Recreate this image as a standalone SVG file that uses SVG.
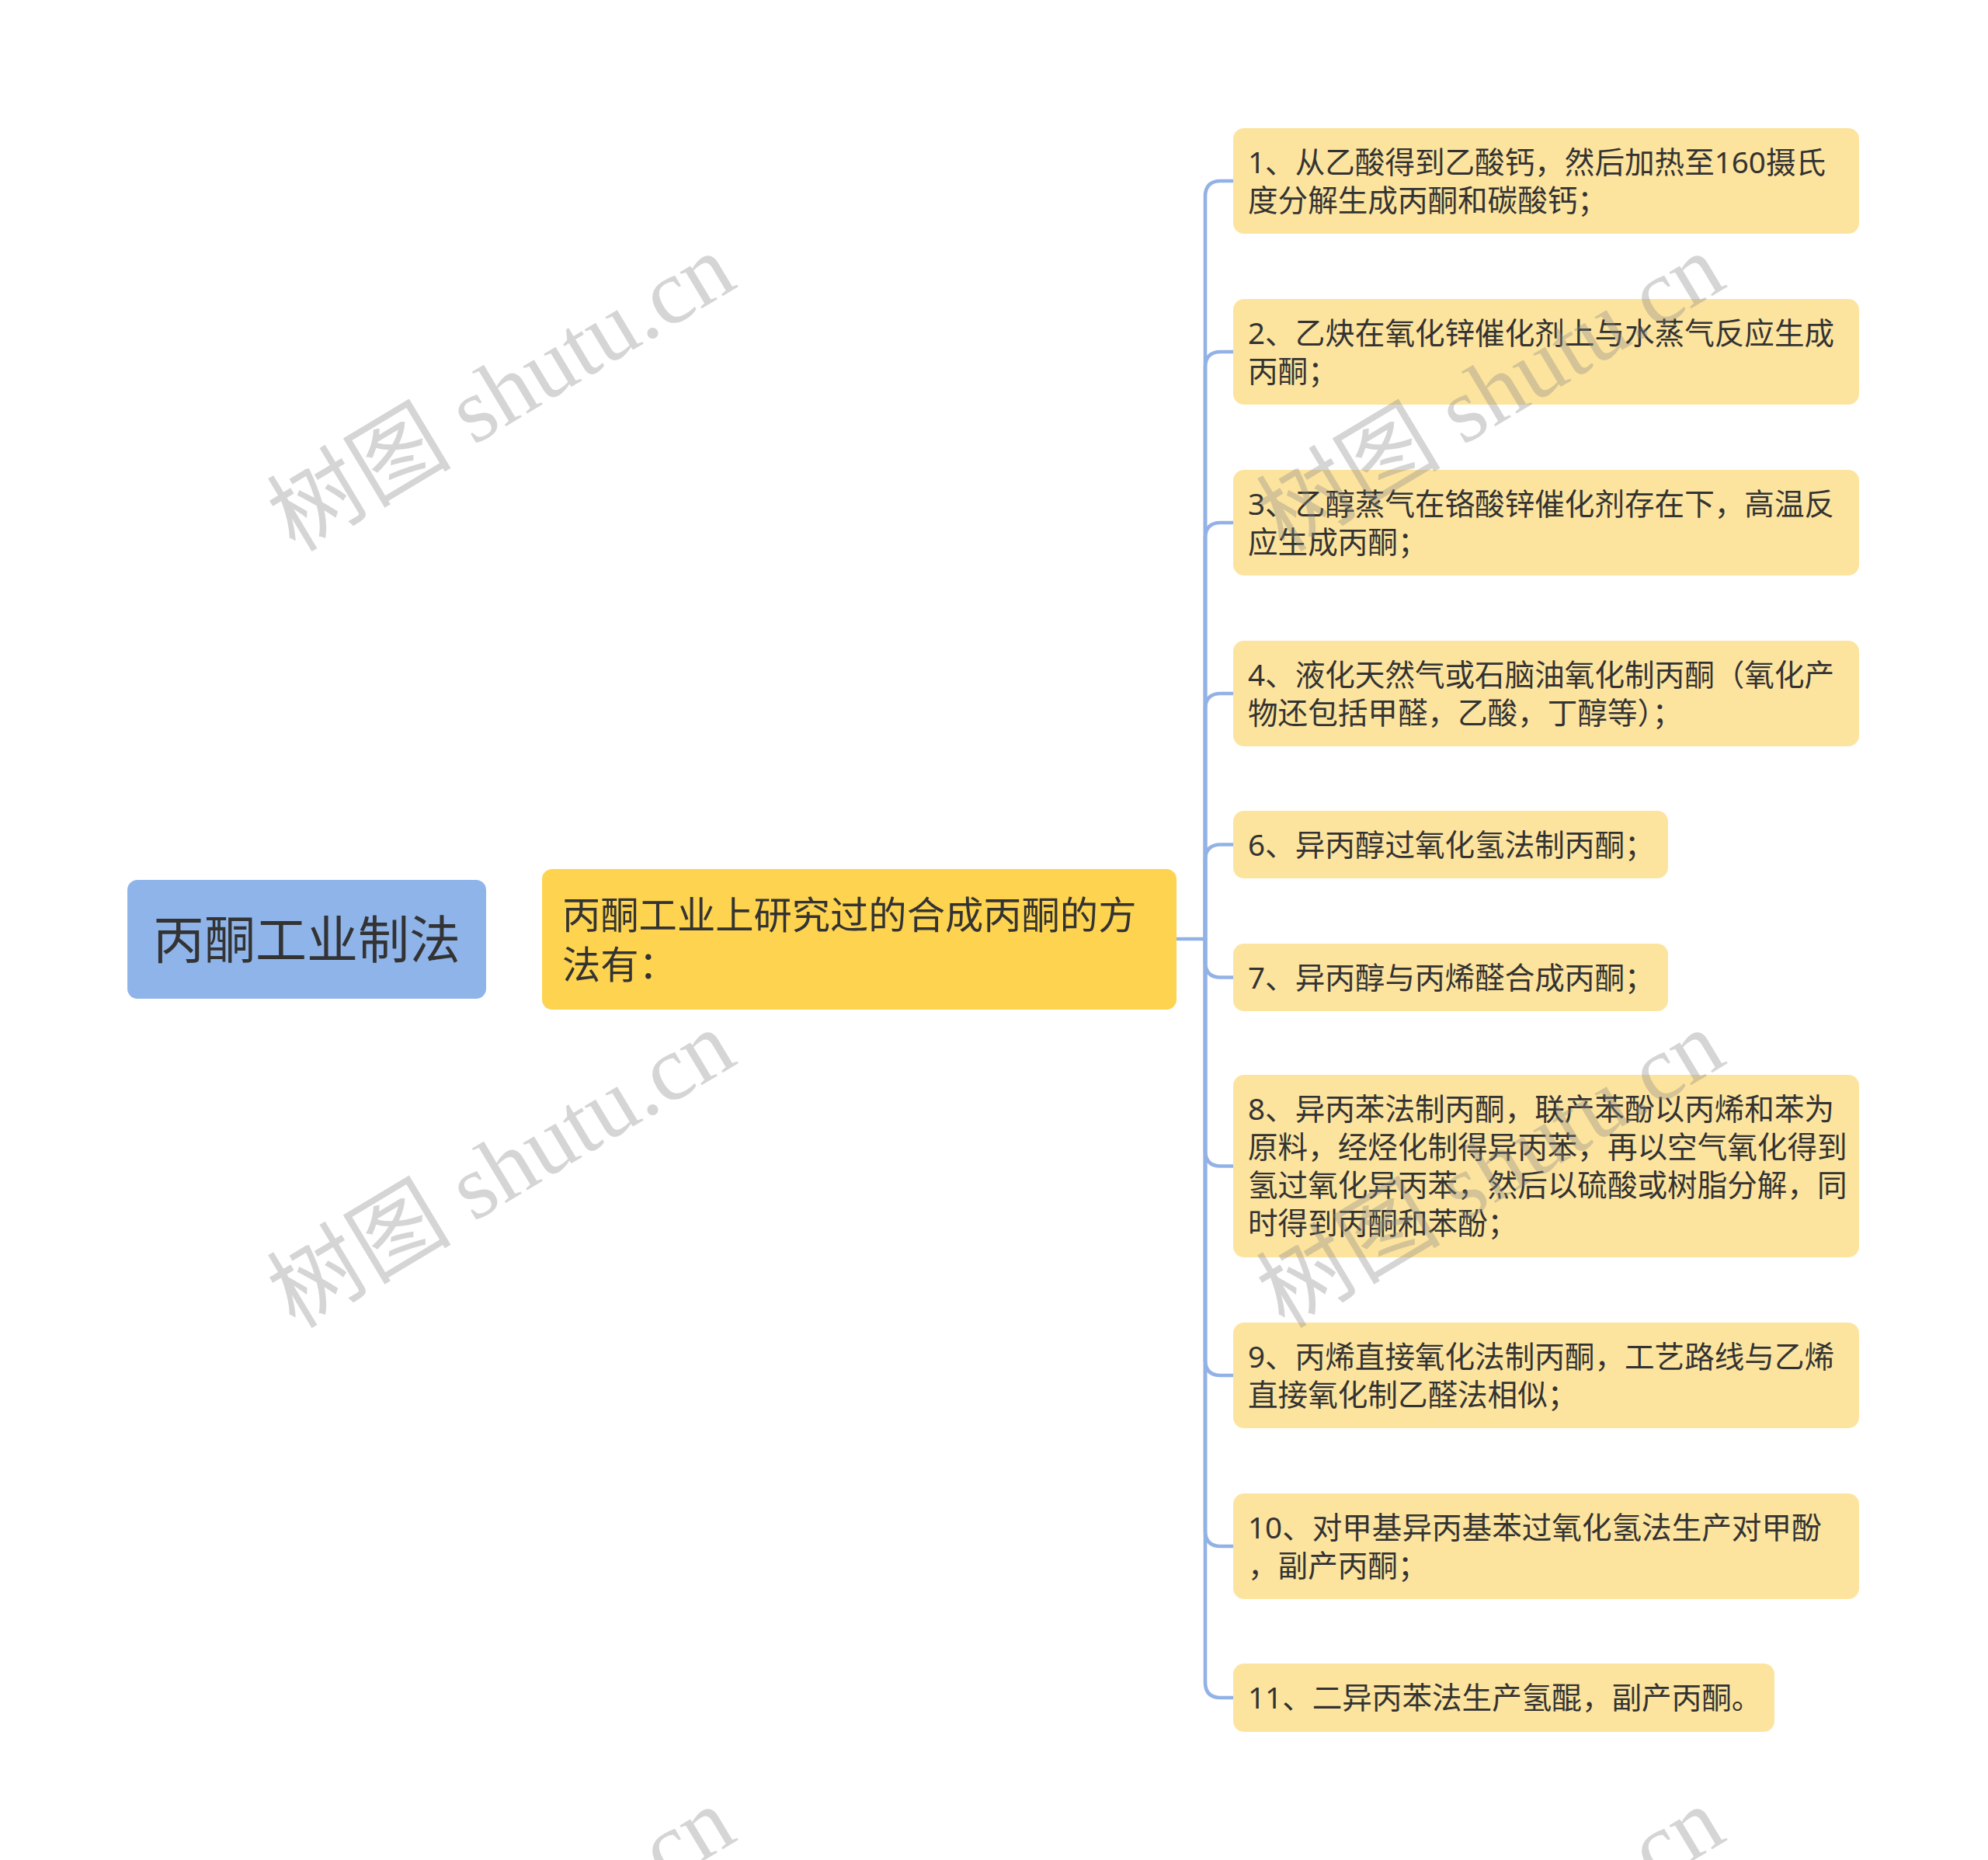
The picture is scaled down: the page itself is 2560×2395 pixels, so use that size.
<svg xmlns="http://www.w3.org/2000/svg" width="2560" height="2395" viewBox="0 0 2560 2395">
<style>
.txt{font-family:"Noto Sans","Noto Sans CJK SC",sans-serif;fill:#333333}
.leaf rect{fill:#fde49e}
.leaf text{font-size:38.6px}
.conn path{fill:none;stroke:#92b2e6;stroke-width:4.6;stroke-linecap:round}
.wm{font-family:"Liberation Serif","Noto Sans CJK SC",serif;font-size:119px;fill:#888888;fill-opacity:0.35}
</style>
<rect x="0" y="0" width="2560" height="2395" fill="#ffffff"/>
<g id="connectors" class="conn">
<path d="M1516,1209 H1552"/>
<path d="M1552,1209 V253 Q1552,233 1572,233 H1588"/>
<path d="M1552,1209 V473 Q1552,453 1572,453 H1588"/>
<path d="M1552,1209 V693 Q1552,673 1572,673 H1588"/>
<path d="M1552,1209 V913 Q1552,893 1572,893 H1588"/>
<path d="M1552,1209 V1107.5 Q1552,1087.5 1572,1087.5 H1588"/>
<path d="M1552,1209 V1238.5 Q1552,1258.5 1572,1258.5 H1588"/>
<path d="M1552,1209 V1481.5 Q1552,1501.5 1572,1501.5 H1588"/>
<path d="M1552,1209 V1751 Q1552,1771 1572,1771 H1588"/>
<path d="M1552,1209 V1971 Q1552,1991 1572,1991 H1588"/>
<path d="M1552,1209 V2166 Q1552,2186 1572,2186 H1588"/>
</g>
<g id="root">
<rect x="164" y="1133" width="462" height="153" rx="13" fill="#8fb4ea"/>
<text class="txt" x="395" y="1234" font-size="66" text-anchor="middle">丙酮工业制法</text>
</g>
<g id="mid">
<rect x="698" y="1119" width="817" height="181" rx="13" fill="#fdd34f"/>
<text class="txt" font-size="49.3"><tspan x="724" y="1196">丙酮工业上研究过的合成丙酮的方</tspan><tspan x="724" y="1260">法有：</tspan></text>
</g>
<g id="leaf1" class="leaf">
<rect x="1588" y="165" width="806" height="136" rx="14"/>
<text class="txt"><tspan x="1607" y="222.5">1、从乙酸得到乙酸钙，然后加热至160摄氏</tspan><tspan x="1607" y="271.5">度分解生成丙酮和碳酸钙；</tspan></text>
</g>
<g id="leaf2" class="leaf">
<rect x="1588" y="385" width="806" height="136" rx="14"/>
<text class="txt"><tspan x="1607" y="442.5">2、乙炔在氧化锌催化剂上与水蒸气反应生成</tspan><tspan x="1607" y="491.5">丙酮；</tspan></text>
</g>
<g id="leaf3" class="leaf">
<rect x="1588" y="605" width="806" height="136" rx="14"/>
<text class="txt"><tspan x="1607" y="662.5">3、乙醇蒸气在铬酸锌催化剂存在下，高温反</tspan><tspan x="1607" y="711.5">应生成丙酮；</tspan></text>
</g>
<g id="leaf4" class="leaf">
<rect x="1588" y="825" width="806" height="136" rx="14"/>
<text class="txt"><tspan x="1607" y="882.5">4、液化天然气或石脑油氧化制丙酮（氧化产</tspan><tspan x="1607" y="931.5">物还包括甲醛，乙酸，丁醇等）；</tspan></text>
</g>
<g id="leaf6" class="leaf">
<rect x="1588" y="1044" width="560" height="87" rx="14"/>
<text class="txt" x="1607" y="1101.5">6、异丙醇过氧化氢法制丙酮；</text>
</g>
<g id="leaf7" class="leaf">
<rect x="1588" y="1215" width="560" height="87" rx="14"/>
<text class="txt" x="1607" y="1272.5">7、异丙醇与丙烯醛合成丙酮；</text>
</g>
<g id="leaf8" class="leaf">
<rect x="1588" y="1384" width="806" height="235" rx="14"/>
<text class="txt"><tspan x="1607" y="1441.5">8、异丙苯法制丙酮，联产苯酚以丙烯和苯为</tspan><tspan x="1607" y="1490.5">原料，经烃化制得异丙苯，再以空气氧化得到</tspan><tspan x="1607" y="1539.5">氢过氧化异丙苯，然后以硫酸或树脂分解，同</tspan><tspan x="1607" y="1588.5">时得到丙酮和苯酚；</tspan></text>
</g>
<g id="leaf9" class="leaf">
<rect x="1588" y="1703" width="806" height="136" rx="14"/>
<text class="txt"><tspan x="1607" y="1760.5">9、丙烯直接氧化法制丙酮，工艺路线与乙烯</tspan><tspan x="1607" y="1809.5">直接氧化制乙醛法相似；</tspan></text>
</g>
<g id="leaf10" class="leaf">
<rect x="1588" y="1923" width="806" height="136" rx="14"/>
<text class="txt"><tspan x="1607" y="1980.5">10、对甲基异丙基苯过氧化氢法生产对甲酚</tspan><tspan x="1607" y="2029.5">，副产丙酮；</tspan></text>
</g>
<g id="leaf11" class="leaf">
<rect x="1588" y="2142" width="697" height="88" rx="14"/>
<text class="txt" x="1607" y="2199.5">11、二异丙苯法生产氢醌，副产丙酮。</text>
</g>
<g id="watermarks">
<text class="wm" x="380" y="712" transform="rotate(-31 380 712)">树图 shutu.cn</text>
<text class="wm" x="1654" y="712" transform="rotate(-31 1654 712)">树图 shutu.cn</text>
<text class="wm" x="380" y="1712" transform="rotate(-31 380 1712)">树图 shutu.cn</text>
<text class="wm" x="1654" y="1712" transform="rotate(-31 1654 1712)">树图 shutu.cn</text>
<text class="wm" x="380" y="2712" transform="rotate(-31 380 2712)">树图 shutu.cn</text>
<text class="wm" x="1654" y="2712" transform="rotate(-31 1654 2712)">树图 shutu.cn</text>
</g>
</svg>
